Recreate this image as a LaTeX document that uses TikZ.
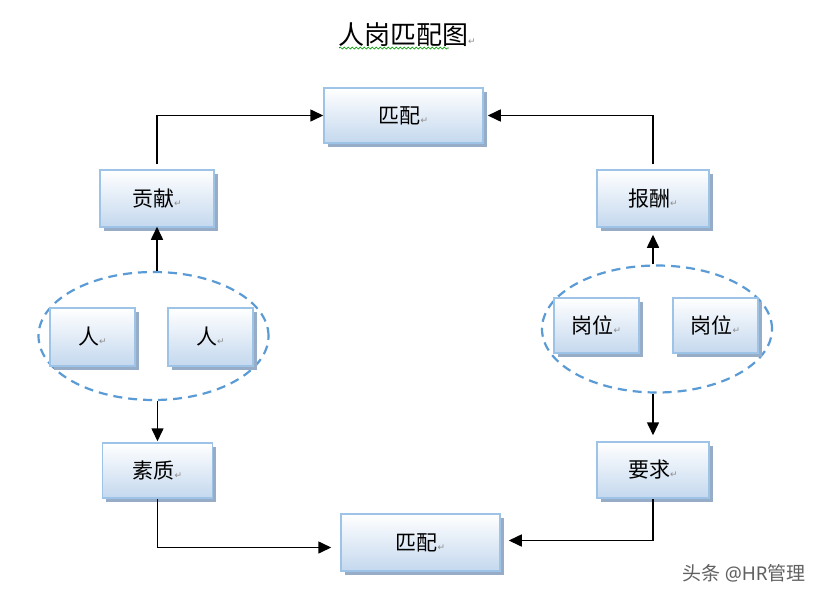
\documentclass[tikz,border=0pt]{standalone}
\usepackage{fontspec}
\setmainfont{Liberation Serif}
\newfontfamily\cjk{Noto Sans CJK SC}
\newfontfamily\dvs{DejaVu Sans}
\usetikzlibrary{shapes.geometric,shadows,arrows.meta,decorations.pathmorphing}
\definecolor{boxedge}{HTML}{9DC3E6}
\definecolor{boxbot}{HTML}{C4D8EE}
\definecolor{shadowc}{HTML}{97ACC6}
\definecolor{dashc}{HTML}{5B9BD5}
\definecolor{markc}{HTML}{8C8C8C}
\newcommand{\pmark}{{\dvs\fontsize{9}{9}\selectfont\textcolor{markc}{↵}}}
\tikzset{
  boxnode/.style={draw=boxedge, line width=1.5pt, top color=white, bottom color=boxbot,
    inner sep=0pt, font=\cjk\fontsize{21}{21}\selectfont,
    drop shadow={shadow xshift=3.5pt, shadow yshift=-3.5pt, fill=shadowc, opacity=1}},
  groupring/.style={draw=dashc, line width=2.2pt, dash pattern=on 9pt off 6pt, ellipse, inner sep=0pt},
  arr/.style={draw=black, line width=1.6pt, -{Triangle[length=13pt,width=12pt]}},
  wm/.style={font=\cjk\fontsize{19}{19}\selectfont, text=black!62}
}
\begin{document}
\begin{tikzpicture}[x=1pt,y=-1pt]
\useasboundingbox[fill=white] (0,0) rectangle (822,600);
% title
\node[anchor=west, font=\cjk\fontsize{26}{26}\selectfont, inner sep=0pt] (title) at (338,35) {人岗匹配图\pmark};
\draw[green!60!black, line width=0.7pt, decorate, decoration={snake, amplitude=1pt, segment length=4pt}]
  ([xshift=1pt,yshift=-13pt]title.west) -- ([xshift=111pt,yshift=-13pt]title.west);
% boxes
\node[boxnode, minimum width=159pt, minimum height=55pt] (top) at (403.5,115.5) {匹配\pmark};
\node[boxnode, minimum width=159pt, minimum height=57pt] (bot) at (420.5,542.5) {匹配\pmark};
\node[boxnode, minimum width=114pt, minimum height=57pt] (gx) at (157,198.5) {贡献\pmark};
\node[boxnode, minimum width=110pt, minimum height=55pt] (sz) at (157.5,470.5) {素质\pmark};
\node[boxnode, minimum width=112pt, minimum height=57pt] (bc) at (653,198.5) {报酬\pmark};
\node[boxnode, minimum width=112pt, minimum height=56pt] (yq) at (653,470) {要求\pmark};
% groups
\node[groupring, minimum width=230pt, minimum height=128pt] (le) at (153.5,336) {};
\node[groupring, minimum width=230pt, minimum height=127pt] (re) at (657,329) {};
\node[boxnode, minimum width=85pt, minimum height=58pt] (r1) at (92.5,337) {人\pmark};
\node[boxnode, minimum width=85pt, minimum height=58pt] (r2) at (210.5,337) {人\pmark};
\node[boxnode, minimum width=85pt, minimum height=55pt] (g1) at (596.5,325.5) {岗位\pmark};
\node[boxnode, minimum width=85pt, minimum height=55pt] (g2) at (715.5,325.5) {岗位\pmark};
% connectors
\draw[arr, shorten <=5pt] (gx.north) |- (top.west);
\draw[arr, shorten <=5pt, shorten >=4pt] (bc.north) |- (top.east);
\draw[arr, shorten >=-1pt] (gx.south |- le.north) -- (gx.south);
\draw[arr, shorten >=1pt] (sz.north |- le.south) -- (sz.north);
\draw[arr, shorten >=7pt] (bc.south |- re.north) -- (bc.south);
\draw[arr, shorten >=6pt] (yq.north |- re.south) -- (yq.north);
\draw[arr, shorten >=9pt] (sz.south) |- ([yshift=-5pt]bot.west);
\draw[arr, shorten >=8pt] (yq.south) |- ([yshift=2pt]bot.east);
% watermark
\node[wm, anchor=east, inner sep=0pt] (mark) at (806,573) {头条 {\fontspec{Noto Sans}@HR}管理};
\end{tikzpicture}
\end{document}
